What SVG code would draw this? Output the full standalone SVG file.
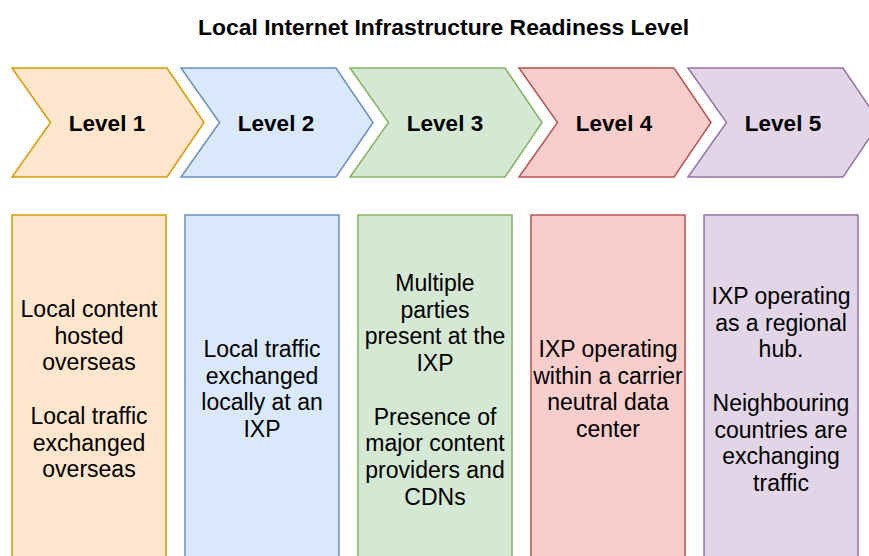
<svg xmlns="http://www.w3.org/2000/svg" width="869" height="556" viewBox="0 0 869 556">
<style>
.t{font-family:"Liberation Sans",Arial,Helvetica,sans-serif;fill:#000;text-anchor:middle}
.title{font-size:22.9px;font-weight:bold}
.lvl{font-size:22.5px;font-weight:bold}
.bx{font-size:23px}
.s1{fill:#ffe6cc;stroke:#d79b00;stroke-width:1.5}
.s2{fill:#dae8fc;stroke:#6c8ebf;stroke-width:1.5}
.s3{fill:#d5e8d4;stroke:#82b366;stroke-width:1.5}
.s4{fill:#f8cecc;stroke:#b85450;stroke-width:1.5}
.s5{fill:#e1d5e7;stroke:#9673a6;stroke-width:1.5}
</style>
<rect width="869" height="556" fill="#fff"/>
<text class="t title" x="443.5" y="35">Local Internet Infrastructure Readiness Level</text>

<g id="level1"><polygon class="s1" points="12,68 167,68 204,122.5 167,177 12,177 50.5,122.5"/><text class="t lvl" x="107" y="131">Level 1</text></g>
<g id="level2"><polygon class="s2" points="181,68 336,68 373,122.5 336,177 181,177 219.5,122.5"/><text class="t lvl" x="276" y="131">Level 2</text></g>
<g id="level3"><polygon class="s3" points="350,68 505,68 542,122.5 505,177 350,177 388.5,122.5"/><text class="t lvl" x="445" y="131">Level 3</text></g>
<g id="level4"><polygon class="s4" points="519,68 674,68 711,122.5 674,177 519,177 557.5,122.5"/><text class="t lvl" x="614" y="131">Level 4</text></g>
<g id="level5"><polygon class="s5" points="688,68 843,68 880,122.5 843,177 688,177 726.5,122.5"/><text class="t lvl" x="783" y="131">Level 5</text></g>

<g id="box1"><rect class="s1" x="12" y="215" width="154" height="350"/>
<text class="t bx" x="89"><tspan x="89" y="317">Local content</tspan><tspan x="89" y="343.7">hosted</tspan><tspan x="89" y="370.4">overseas</tspan><tspan x="89" y="423.8">Local traffic</tspan><tspan x="89" y="450.5">exchanged</tspan><tspan x="89" y="477.2">overseas</tspan></text></g>

<g id="box2"><rect class="s2" x="185" y="215" width="154" height="350"/>
<text class="t bx" x="262"><tspan x="262" y="357">Local traffic</tspan><tspan x="262" y="383.7">exchanged</tspan><tspan x="262" y="410.4">locally at an</tspan><tspan x="262" y="437.1">IXP</tspan></text></g>

<g id="box3"><rect class="s3" x="358" y="215" width="154" height="350"/>
<text class="t bx" x="435"><tspan x="435" y="291">Multiple</tspan><tspan x="435" y="317.7">parties</tspan><tspan x="435" y="344.4">present at the</tspan><tspan x="435" y="371.1">IXP</tspan><tspan x="435" y="424.5">Presence of</tspan><tspan x="435" y="451.2">major content</tspan><tspan x="435" y="477.9">providers and</tspan><tspan x="435" y="504.6">CDNs</tspan></text></g>

<g id="box4"><rect class="s4" x="531" y="215" width="154" height="350"/>
<text class="t bx" x="608"><tspan x="608" y="357">IXP operating</tspan><tspan x="608" y="383.7">within a carrier</tspan><tspan x="608" y="410.4">neutral data</tspan><tspan x="608" y="437.1">center</tspan></text></g>

<g id="box5"><rect class="s5" x="704" y="215" width="154" height="350"/>
<text class="t bx" x="781"><tspan x="781" y="304">IXP operating</tspan><tspan x="781" y="330.7">as a regional</tspan><tspan x="781" y="357.4">hub.</tspan><tspan x="781" y="410.8">Neighbouring</tspan><tspan x="781" y="437.5">countries are</tspan><tspan x="781" y="464.2">exchanging</tspan><tspan x="781" y="490.9">traffic</tspan></text></g>

<g id="connectors"></g>
</svg>
